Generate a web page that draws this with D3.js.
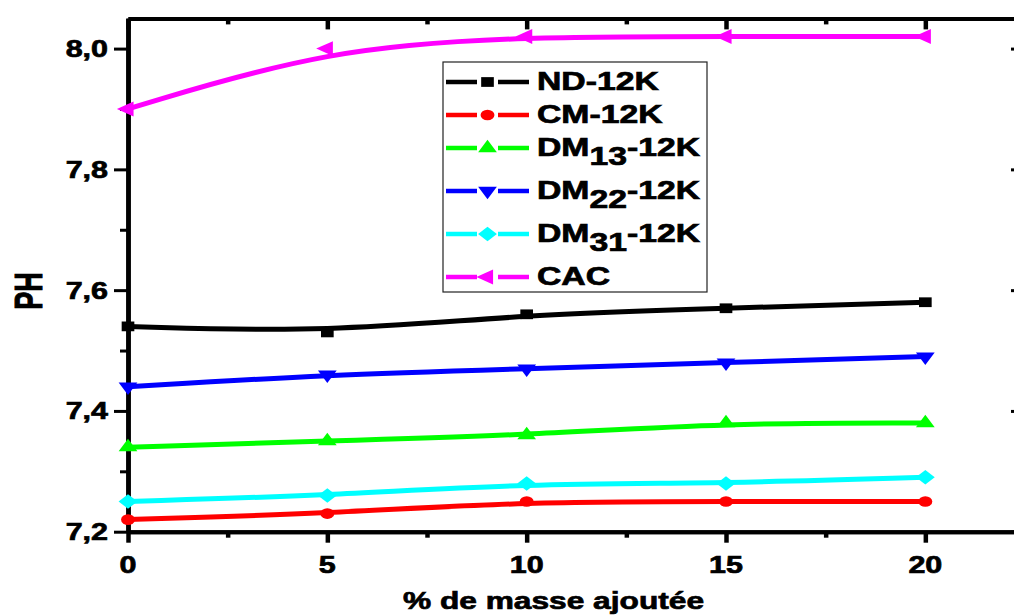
<!DOCTYPE html>
<html>
<head>
<meta charset="utf-8">
<script src="https://cdn.jsdelivr.net/npm/d3@7"></script>
<style>
  body { margin: 0; background: #fff; }
  text { font-family: "Liberation Sans", Arial, sans-serif; font-weight: bold; fill: #000; stroke: #000; stroke-width: 0.7; }
</style>
</head>
<body>
<div id="chart"></div>
<script>
// data
var masse = [0, 5, 10, 15, 20];
var nd12k = [7.54, 7.53, 7.56, 7.57, 7.58];
var cm12k = [7.22, 7.23, 7.25, 7.25, 7.25];
var dm13 = [7.34, 7.35, 7.36, 7.38, 7.38];
var dm22 = [7.44, 7.46, 7.47, 7.48, 7.49];
var dm31 = [7.25, 7.26, 7.28, 7.28, 7.29];
var cac = [7.90, 8.00, 8.02, 8.02, 8.02];

var seriesNames = ["ND-12K", "CM-12K", "DM13-12K", "DM22-12K", "DM31-12K", "CAC"];
var seriesColors = ["#000000", "#ff0000", "#00ff00", "#0000ff", "#00ffff", "#ff00ff"];

var xMajor = [0, 5, 10, 15, 20],
    xMinor = [2.5, 7.5, 12.5, 17.5],
    yMajor = [7.2, 7.4, 7.6, 7.8, 8.0],
    yMinor = [7.3, 7.5, 7.7, 7.9];

var width = 1014, height = 615;

var x = d3.scaleLinear().domain([0, 22.5]).range([128, 1025]);
var y = d3.scaleLinear().domain([7.2, 8.05]).range([531.7, 18.4]);

var svg = d3.select("#chart").append("svg")
    .attr("width", width)
    .attr("height", height);

// squashed look of the original: everything is stretched in x
var sxTick = 1.27, sxLeg = 1.35, sxMark = 1.3;

function frac(v) { return d3.format(".1f")(v).replace(".", ","); }

// axes
function axisStyle(g, w) {
    g.select(".domain").attr("stroke", "#000").attr("stroke-width", w);
    g.selectAll(".tick line").attr("stroke", "#000").attr("stroke-width", w);
    g.selectAll(".tick text").remove();
}

var axes = svg.append("g").attr("class", "axes");

axes.append("g").attr("transform", "translate(0," + y(7.2) + ")")
    .call(d3.axisBottom(x).tickValues(xMajor).tickSize(11).tickSizeOuter(0).tickFormat(""))
    .call(axisStyle, 4);
axes.append("g").attr("transform", "translate(0," + y(7.2) + ")")
    .call(d3.axisBottom(x).tickValues(xMinor).tickSize(6).tickSizeOuter(0).tickFormat(""))
    .call(axisStyle, 4);
axes.append("g").attr("transform", "translate(0," + y(8.05) + ")")
    .call(d3.axisBottom(x).tickValues(xMajor).tickSize(11).tickSizeOuter(0).tickFormat(""))
    .call(axisStyle, 4);
axes.append("g").attr("transform", "translate(0," + y(8.05) + ")")
    .call(d3.axisBottom(x).tickValues(xMinor).tickSize(6).tickSizeOuter(0).tickFormat(""))
    .call(axisStyle, 4);

axes.append("g").attr("transform", "translate(" + x(0) + ",0)")
    .call(d3.axisLeft(y).tickValues(yMajor).tickSize(14).tickSizeOuter(0).tickFormat(""))
    .call(axisStyle, 4.5);
axes.append("g").attr("transform", "translate(" + x(0) + ",0)")
    .call(d3.axisLeft(y).tickValues(yMinor).tickSize(8).tickSizeOuter(0).tickFormat(""))
    .call(axisStyle, 4.5);
axes.append("g").attr("transform", "translate(" + x(22.5) + ",0)")
    .call(d3.axisRight(y).tickValues(yMajor).tickSize(-14).tickSizeOuter(0).tickFormat(""))
    .call(axisStyle, 4);
axes.append("g").attr("transform", "translate(" + x(22.5) + ",0)")
    .call(d3.axisRight(y).tickValues(yMinor).tickSize(-8).tickSizeOuter(0).tickFormat(""))
    .call(axisStyle, 4);
axes.selectAll(".tick line").attr("stroke-width", function() {
    return this.getAttribute("x2") != null && +this.getAttribute("x2") !== 0 ? 3 : 4.5;
});

// tick labels
axes.selectAll(".ylab")
    .data(yMajor)
    .enter().append("text")
    .attr("class", "ylab")
    .attr("text-anchor", "end")
    .attr("font-size", 24)
    .attr("transform", function(d) { return "translate(108," + (y(d) + 8.5) + ") scale(" + sxTick + ",1)"; })
    .text(frac);

axes.selectAll(".xlab")
    .data(xMajor)
    .enter().append("text")
    .attr("class", "xlab")
    .attr("text-anchor", "middle")
    .attr("font-size", 24)
    .attr("transform", function(d) { return "translate(" + x(d) + ",573) scale(" + sxTick + ",1)"; })
    .text(function(d) { return d; });

svg.append("text")
    .attr("font-size", 24)
    .attr("transform", "translate(403,609) scale(1.32,1)")
    .text("% de masse ajoutée");

svg.append("text")
    .attr("font-size", 27)
    .attr("text-anchor", "middle")
    .attr("transform", "translate(42,291) scale(1.45,1) rotate(-90)")
    .text("PH");

// markers
var diamond = {
    draw: function(ctx, size) {
        var r = Math.sqrt(size / 2);
        ctx.moveTo(0, -r); ctx.lineTo(r, 0); ctx.lineTo(0, r); ctx.lineTo(-r, 0); ctx.closePath();
    }
};
var markers = [
    {type: d3.symbolSquare, size: 95, rot: 0},
    {type: d3.symbolCircle, size: 90, rot: 0},
    {type: d3.symbolTriangle, size: 90, rot: 0},
    {type: d3.symbolTriangle, size: 90, rot: 180},
    {type: diamond, size: 105, rot: 0},
    {type: d3.symbolTriangle, size: 95, rot: -90}
];

var allSeries = [nd12k, cm12k, dm13, dm22, dm31, cac];

var line = d3.line()
    .x(function(d, i) { return x(masse[i]); })
    .y(function(d) { return y(d); })
    .curve(d3.curveBasis);

var plot = svg.append("g").attr("class", "series");

allSeries.forEach(function(vals, k) {
    var g = plot.append("g");
    g.append("path")
        .datum(vals)
        .attr("fill", "none")
        .attr("stroke", seriesColors[k])
        .attr("stroke-width", 5)
        .attr("d", line);
    g.selectAll("path.mk")
        .data(vals)
        .enter().append("path")
        .attr("class", "mk")
        .attr("fill", seriesColors[k])
        .attr("d", d3.symbol().type(markers[k].type).size(markers[k].size))
        .attr("transform", function(d, i) {
            return "translate(" + x(masse[i]) + "," + y(d) + ") scale(" + sxMark + ",1) rotate(" + markers[k].rot + ")";
        });
});

// legend
var legend = svg.append("g").attr("class", "legend");
legend.append("rect")
    .attr("x", 443).attr("y", 62)
    .attr("width", 264).attr("height", 230)
    .attr("fill", "#fff")
    .attr("stroke", "#222")
    .attr("stroke-width", 1.2);

var rowY = [];
var yy = 82;
seriesNames.forEach(function(name, k) {
    if (k > 0) yy += (/^DM/.test(seriesNames[k - 1]) ? 43 : 33);
    rowY.push(yy);
});

seriesNames.forEach(function(name, k) {
    var ly = rowY[k];
    var row = legend.append("g");
    row.append("line").attr("x1", 446).attr("x2", 477).attr("y1", ly).attr("y2", ly)
        .attr("stroke", seriesColors[k]).attr("stroke-width", 4.5);
    row.append("line").attr("x1", 498).attr("x2", 529).attr("y1", ly).attr("y2", ly)
        .attr("stroke", seriesColors[k]).attr("stroke-width", 4.5);
    row.append("path")
        .attr("fill", seriesColors[k])
        .attr("d", d3.symbol().type(markers[k].type).size(markers[k].size))
        .attr("transform", "translate(487.5," + ly + ") scale(" + sxMark + ",1) rotate(" + markers[k].rot + ")");
    var t = row.append("text")
        .attr("font-size", 25)
        .attr("transform", "translate(537," + (ly + 8) + ") scale(" + sxLeg + ",1)");
    var m = name.match(/^DM(\d+)(.*)$/);
    if (m) {
        t.append("tspan").text("DM");
        t.append("tspan").attr("dy", 9).text(m[1]);
        t.append("tspan").attr("dy", -9).text(m[2]);
    } else {
        t.text(name);
    }
});
</script>
</body>
</html>
